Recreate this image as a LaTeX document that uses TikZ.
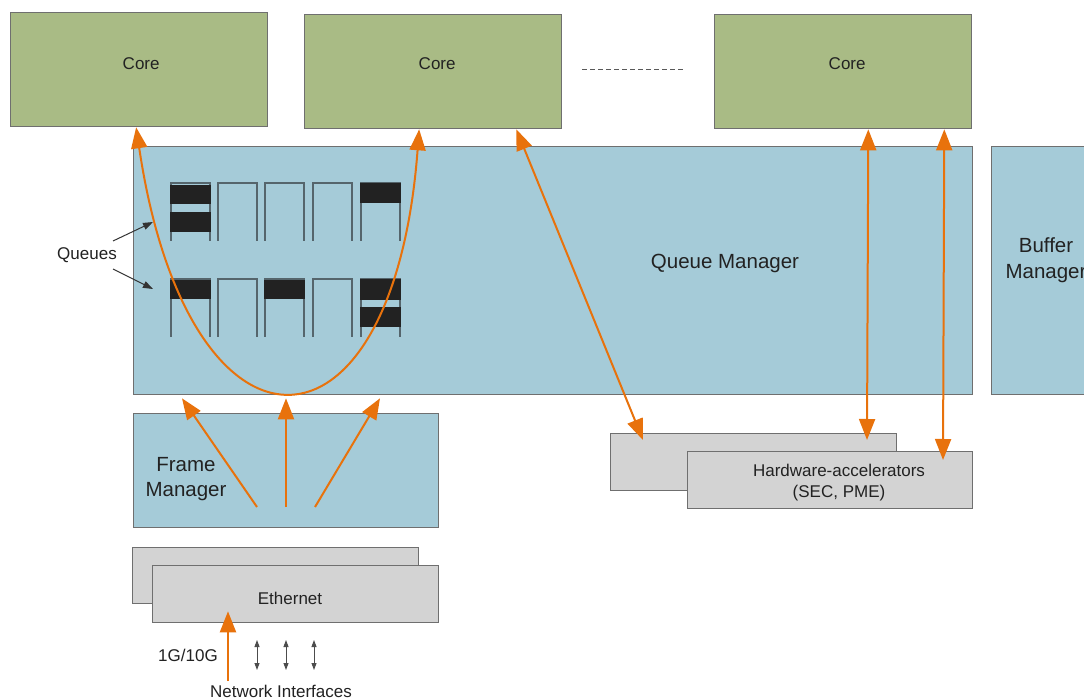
\documentclass[tikz,border=0pt]{standalone}
\usepackage{fontspec}
\setmainfont{Liberation Sans}
\usetikzlibrary{arrows.meta,calc}
\definecolor{coregreen}{HTML}{A9BB85}
\definecolor{qblue}{HTML}{A5CBD8}
\definecolor{boxgray}{HTML}{D3D3D3}
\definecolor{edgegray}{HTML}{6F6F6F}
\definecolor{arrorange}{HTML}{E8720C}
\definecolor{qline}{HTML}{55656C}
\definecolor{qfill}{HTML}{222222}
\definecolor{txt}{HTML}{222222}
\begin{document}
\begin{tikzpicture}[x=1pt,y=-1pt,
  blk/.style={draw=edgegray,line width=1.3pt,anchor=north west,inner sep=0pt},
  corebox/.style={blk,fill=coregreen,minimum width=257pt,minimum height=114pt},
  bluebox/.style={blk,fill=qblue},
  graybox/.style={blk,fill=boxgray,minimum width=286pt,minimum height=57pt},
  lbl/.style={text=txt,inner sep=0pt,align=center},
  smalllbl/.style={lbl,font=\fontsize{17}{21}\selectfont},
  biglbl/.style={lbl,font=\fontsize{20.5}{25.5}\selectfont},
  oarrow/.style={draw=arrorange,line width=2pt,-{Triangle[length=21pt,width=16pt]}},
  odarrow/.style={draw=arrorange,line width=2pt,{Triangle[length=21pt,width=16pt]}-{Triangle[length=21pt,width=16pt]}},
  karrow/.style={draw=black!80,line width=1pt,-{Triangle[length=10pt,width=7pt]}},
  kdarrow/.style={draw=black!70,line width=0.9pt,{Triangle[length=7pt,width=5pt]}-{Triangle[length=7pt,width=5pt]}},
  qwall/.style={draw=qline,line width=2pt}
]
\clip (0,0) rectangle (1084,700);
\fill[white] (0,0) rectangle (1084,700);

% cores
\node[corebox] (core1) at (10,12) {};
\node[corebox] (core2) at (304,14) {};
\node[corebox] (core3) at (714,14) {};
\node[smalllbl] (core1lbl) at ($(core1.center)+(2,-6)$) {Core};
\node[smalllbl] (core2lbl) at ($(core2.center)+(4,-8)$) {Core};
\node[smalllbl] (core3lbl) at ($(core3.center)+(4,-8)$) {Core};
\draw[draw=black!65,line width=1pt,dash pattern=on 5pt off 3pt]
  ($(core2.east)+(20,-2)$) coordinate (d1) -- ($(core3.west)+(-28,-2)$) coordinate (d2);

% managers
\node[bluebox,minimum width=839pt,minimum height=248pt] (qm) at (133,146) {};
\node[biglbl] (qmlbl) at (725,263) {Queue Manager};
\node[bluebox,minimum width=120pt,minimum height=248pt] (bm) at (991,146) {};
\node[biglbl] (bmlbl) at (1046,260) {Buffer\\Manager};
\node[bluebox,minimum width=305pt,minimum height=114pt] (fm) at (133,413) {};
\node[biglbl] (fmlbl) at (186,479) {Frame\\Manager};

% ethernet
\node[graybox,minimum height=56pt] (eth1) at (132,547) {};
\node[graybox] (eth2) at (152,565) {};
\node[smalllbl] (ethlbl) at (290,598) {Ethernet};

% hardware accelerators
\node[graybox] (hw1) at (610,433) {};
\node[graybox,minimum width=285pt] (hw2) at (687,451) {};
\node[smalllbl] (hwlbl) at (839,483) {Hardware-accelerators\\(SEC, PME)};

% queues
\foreach \qx in {171,218,265,313,361}{
  \foreach \qy in {183,279}{
    \draw[qwall] (\qx,\qy+58) -- (\qx,\qy) -- (\qx+39,\qy) -- (\qx+39,\qy+58);
  }
}
\fill[qfill] (170,185) rectangle (211,204);
\fill[qfill] (170,212) rectangle (211,232);
\fill[qfill] (360,183) rectangle (401,203);
\fill[qfill] (170,280) rectangle (211,299);
\fill[qfill] (264,280) rectangle (305,299);
\fill[qfill] (360,279) rectangle (401,300);
\fill[qfill] (360,307) rectangle (401,327);

\node[smalllbl] (qlbl) at (87,255) {Queues};
\coordinate (qa1) at (113,241);
\coordinate (qa2) at (113,269);
\coordinate (qt1) at (153,222);
\coordinate (qt2) at (153,289);
\draw[karrow] (qa1) -- (qt1);
\draw[karrow] (qa2) -- (qt2);

% U-shaped curve between cores through queue manager
\coordinate (pa) at ($(core1.south)+(-3,0)$);
\coordinate (pc) at ($(core2.south)+(-14,0)$);
\coordinate (pca) at (188,477);
\coordinate (pcb) at (393,477);
\draw[odarrow] (pa) .. controls (pca) and (pcb) .. (pc);

% frame manager to queue manager
\coordinate (f1) at (257,507);
\coordinate (f2) at (286,507);
\coordinate (f3) at (315,507);
\draw[oarrow] (f1) -- ($(qm.south west)+(49,3)$);
\draw[oarrow] (f2) -- ($(qm.south west)+(153,3)$);
\draw[oarrow] (f3) -- ($(qm.south west)+(247,3)$);

% core2 / core3 to accelerators
\draw[odarrow] ($(core2.south east)+(-46,0)$) -- ($(hw1.north west)+(33,7)$);
\draw[odarrow] ($(core3.south east)+(-104,0)$) -- ($(hw1.north west)+(257,7)$);
\draw[odarrow] ($(core3.south east)+(-28,0)$) -- ($(hw2.north west)+(256,9)$);

% network interfaces
\coordinate (ni) at (228,681);
\draw[oarrow] (ni) -- ($(eth2.south west)+(76,-12)$);
\node[smalllbl] (glbl) at (188,655) {1G/10G};
\node[smalllbl] (nilbl) at (281,691) {Network Interfaces};
\foreach \ax/\nm in {257/s1,286/s2,314/s3}{
  \coordinate (\nm a) at (\ax,640);
  \coordinate (\nm b) at (\ax,670);
  \draw[kdarrow] (\nm a) -- (\nm b);
}
\end{tikzpicture}
\end{document}
